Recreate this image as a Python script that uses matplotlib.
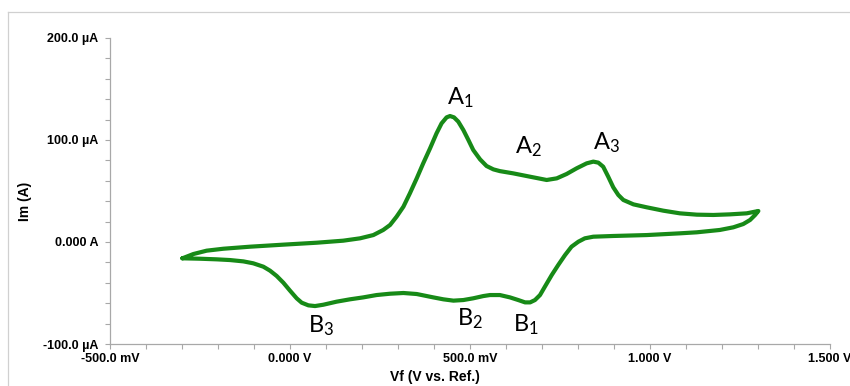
import matplotlib
matplotlib.use("Agg")
import matplotlib.pyplot as plt
from matplotlib.ticker import MultipleLocator, FixedLocator, FixedFormatter
from matplotlib.lines import Line2D

plt.rcParams.update({'mathtext.default': 'regular'})

# forward scan (mV, uA), left vertex -> right vertex
fwd_v = [-299, -268.5, -231.5, -185, -111, -18.5, 74, 148, 194.5, 231.5, 259, 278,
         296, 315, 333, 352, 370, 389, 407, 421, 435, 444.5, 455.5, 467.5, 481.5,
         495.5, 509, 528, 546, 565, 583, 620, 667, 713, 741, 768.5, 796, 824, 842.5,
         856.5, 870, 884, 898, 912, 926, 954, 991, 1037, 1083, 1130, 1176, 1222,
         1268.5, 1301]
fwd_i = [-16, -11.8, -8.5, -6.6, -4.6, -2.6, -0.7, 1.3, 3.6, 6.8, 11.8, 16.7,
         24.8, 34.6, 47.7, 62.4, 77.1, 91.8, 106.5, 116.3, 122.2, 123.5, 122.2, 118,
         109.8, 100, 90.2, 81, 74.5, 71.2, 69.5, 67.3, 64, 60.8, 62.4, 66.7, 72.2,
         77.1, 78.8, 77.8, 73.8, 64, 53.6, 46.1, 41.2, 36.9, 34, 30.7, 28.1, 26.8,
         26.5, 27.1, 28.1, 30.4]

# reverse scan, right vertex -> left vertex
rev_v = [1292, 1278, 1259, 1231.5, 1194, 1130, 1083, 991, 898, 842.5, 819, 801,
         782, 764, 745, 727, 708, 694.5, 680.5, 667, 653, 634, 611, 583, 555.5,
         537, 509, 481.5, 454, 426, 398, 352, 315, 278, 240.5, 203.5, 166.5, 129.5,
         92.5, 69.5, 51, 32.5, 18.5, 0, -18.5, -37, -55.5, -74, -102, -129.5,
         -166.5, -203.5, -250, -299]
rev_i = [26.5, 21.6, 17.6, 14.4, 11.8, 9.5, 8.5, 6.8, 5.9, 5.2, 3.6, 0.3,
         -4.6, -12.8, -22.6, -32.4, -43.8, -52, -56.9, -59.2, -59.2, -56.9, -54.3,
         -52, -52, -53, -55.2, -56.9, -57.5, -56.2, -54.3, -51, -50, -50.7, -52,
         -54.3, -56.2, -58.5, -61.5, -62.8, -62.1, -59.5, -55.2, -47.7, -39.9,
         -33.3, -28.1, -24.2, -20.9, -19, -17.7, -17, -16.4, -16]

xtick_vals = [-500, 0, 500, 1000, 1500]
xtick_labels = ['-500.0 mV', '0.000 V', '500.0 mV', '1.000 V', '1.500 V']
ytick_vals = [-100, 0, 100, 200]
ytick_labels = ['-100.0 µA', '0.000 A', '100.0 µA', '200.0 µA']

peak_labels = ['A$_1$', 'A$_2$', 'A$_3$', 'B$_3$', 'B$_2$', 'B$_1$']
peak_v = [436, 625, 842, 50, 464, 619]
peak_i = [135, 87, 91, -89, -82, -88]

green = '#178a17'
grey = '#a8a8a8'

fig = plt.figure(figsize=(8.5, 3.86), dpi=100)
ax = fig.add_axes([110/850, 1 - 344/386, 720/850, 306/386])

ax.plot(fwd_v + rev_v, fwd_i + rev_i, color=green, lw=3,
        solid_joinstyle='round', solid_capstyle='round')

for lab, xv, yv in zip(peak_labels, peak_v, peak_i):
    ax.text(xv, yv, lab, fontsize=17, family=['Lato', 'DejaVu Sans'],
            ha='left', va='baseline', color='black')

ax.set_xlim(-500, 1500)
ax.set_ylim(-100, 200)
ax.xaxis.set_major_locator(FixedLocator(xtick_vals))
ax.xaxis.set_major_formatter(FixedFormatter(xtick_labels))
ax.xaxis.set_minor_locator(MultipleLocator(100))
ax.yaxis.set_major_locator(FixedLocator(ytick_vals))
ax.yaxis.set_major_formatter(FixedFormatter(ytick_labels))
ax.yaxis.set_minor_locator(MultipleLocator(20))

for s in ['top', 'right']:
    ax.spines[s].set_visible(False)
for s in ['left', 'bottom']:
    ax.spines[s].set_color(grey)
    ax.spines[s].set_linewidth(0.9)

ax.tick_params(which='both', color=grey, length=3.5, width=0.8, direction='out')
ax.tick_params(axis='x', which='major', pad=3)
ax.tick_params(axis='y', which='major', pad=5)
for t in ax.get_xticklabels() + ax.get_yticklabels():
    t.set_fontfamily(['Liberation Sans', 'DejaVu Sans'])
    t.set_fontweight('bold')
    t.set_fontsize(9)

fig.text(435/850, 1 - 381/386, 'Vf (V vs. Ref.)', ha='center', va='baseline',
         fontsize=10, fontweight='bold', family=['Liberation Sans', 'DejaVu Sans'])
fig.text(25/850, 1 - 201/386, 'Im (A)', ha='center', va='center', rotation=90,
         fontsize=10, fontweight='bold', family=['Liberation Sans', 'DejaVu Sans'])

# outer frame
fig.add_artist(Line2D([8/850, 8/850], [0, 1 - 12/386], color='#d0d0d0', lw=0.9))
fig.add_artist(Line2D([8/850, 1], [1 - 12/386, 1 - 12/386], color='#d0d0d0', lw=0.9))

fig.savefig('out.png', dpi=100)
